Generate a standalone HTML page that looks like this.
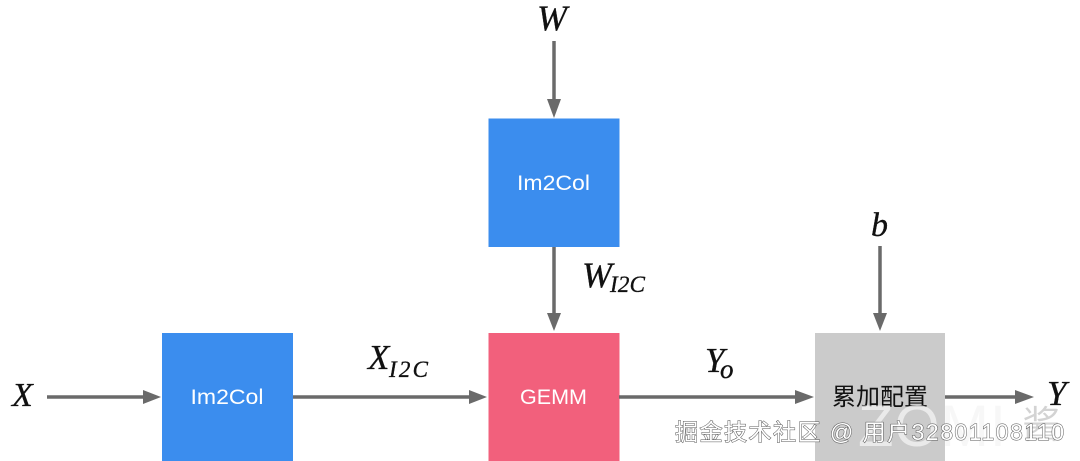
<!DOCTYPE html>
<html>
<head>
<meta charset="utf-8">
<style>
html,body{margin:0;padding:0;background:#fff;width:1080px;height:461px;overflow:hidden}
svg{display:block}
.m{font-family:"Liberation Serif",serif;font-style:italic;fill:#111;stroke:#111;stroke-width:.35}
.b{font-family:"Liberation Sans",sans-serif;fill:#fff;font-size:21px;text-anchor:middle}
</style>
</head>
<body>
<svg width="1080" height="461" viewBox="0 0 1080 461" xmlns="http://www.w3.org/2000/svg">
<rect x="162" y="333" width="131" height="128" fill="#3b8dee"/>
<rect x="488.5" y="118.5" width="131" height="128.5" fill="#3b8dee"/>
<rect x="488.5" y="333" width="131" height="128" fill="#f2607c"/>
<rect x="815" y="333" width="130" height="128" fill="#cbcbcb"/>

<g stroke="#6a6a6a" stroke-width="3.5" fill="none">
<line x1="47" y1="397" x2="146" y2="397"/>
<line x1="293" y1="397" x2="472" y2="397"/>
<line x1="619" y1="397" x2="798" y2="397"/>
<line x1="945" y1="397" x2="1018" y2="397"/>
<line x1="554" y1="41" x2="554" y2="102"/>
<line x1="554" y1="247" x2="554" y2="316"/>
<line x1="880" y1="246" x2="880" y2="316"/>
</g>
<g fill="#6a6a6a">
<polygon points="143,390 161,397 143,404"/>
<polygon points="469,390 487,397 469,404"/>
<polygon points="795,390 814,397 795,404"/>
<polygon points="1015,390 1034,397 1015,404"/>
<polygon points="547,99 554,118 561,99"/>
<polygon points="547,313 554,331 561,313"/>
<polygon points="873,313 880,331 887,313"/>
</g>

<text x="227" y="404" class="b" textLength="73" lengthAdjust="spacingAndGlyphs">Im2Col</text>
<text x="553.5" y="190" class="b" textLength="73" lengthAdjust="spacingAndGlyphs">Im2Col</text>
<text x="553.5" y="404" class="b" textLength="67" lengthAdjust="spacingAndGlyphs">GEMM</text>
<text x="880" y="405" font-size="24" text-anchor="middle" fill="#111" font-family="'Liberation Sans','Noto Sans CJK SC',sans-serif">累加配置</text>

<text x="12" y="406" class="m" font-size="34">X</text>
<text x="537" y="30" class="m" font-size="36">W</text>
<text x="871" y="236" class="m" font-size="34">b</text>
<text x="1047" y="405" class="m" font-size="35">Y</text>
<text x="368" y="369" class="m" font-size="35">X</text>
<text x="389" y="377" class="m" font-size="23" textLength="39">I2C</text>
<text x="582" y="287" class="m" font-size="36">W</text>
<text x="610" y="292" class="m" font-size="23" textLength="35">I2C</text>
<text x="705" y="372" class="m" font-size="35">Y</text>
<text x="720" y="378" class="m" font-size="27">o</text>

<text x="858" y="446" font-family="'Liberation Sans',sans-serif" font-size="58" fill="#f4f4f4" fill-opacity=".75" letter-spacing="1">ZOMI</text>
<text x="1022" y="438" font-family="'Liberation Sans','Noto Sans CJK SC',sans-serif" font-size="38" fill="#c8c8c8" fill-opacity=".8">酱</text>

<text x="675" y="440" font-family="'Liberation Sans','Noto Sans CJK SC',sans-serif" font-size="23" fill="#fff" stroke="#555" stroke-width="1" paint-order="stroke" textLength="389" lengthAdjust="spacing">掘金技术社区 @ 用户32801108110</text>
</svg>
</body>
</html>
